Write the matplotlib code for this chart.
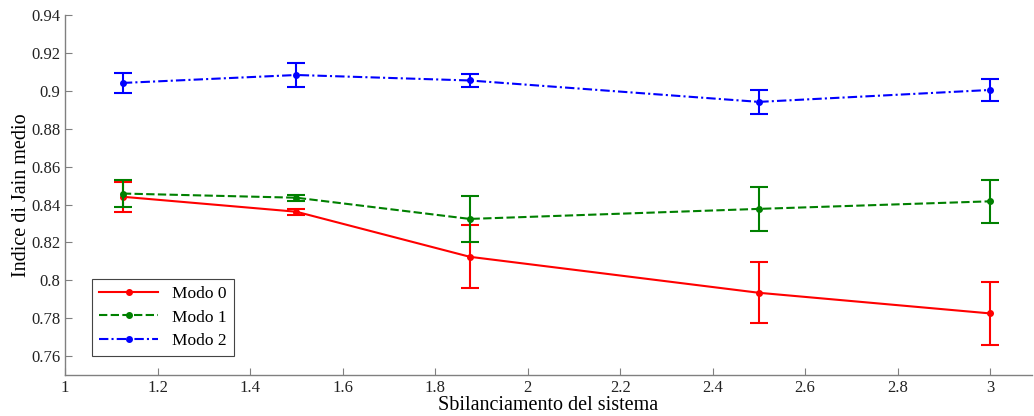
import matplotlib
matplotlib.use('Agg')
import matplotlib.pyplot as plt

# dati
x = [1.125, 1.5, 1.875, 2.5, 3.0]

modo0 = [0.8441, 0.8362, 0.8124, 0.7934, 0.7825]
modo0_err = [0.0079, 0.0017, 0.0166, 0.0160, 0.0167]

modo1 = [0.8458, 0.8436, 0.8324, 0.8377, 0.8417]
modo1_err = [0.0073, 0.0015, 0.0120, 0.0116, 0.0114]

modo2 = [0.9042, 0.9084, 0.9055, 0.8942, 0.9005]
modo2_err = [0.0053, 0.0063, 0.0034, 0.0065, 0.0060]

labels = ['Modo 0', 'Modo 1', 'Modo 2']
xticks = [1, 1.2, 1.4, 1.6, 1.8, 2, 2.2, 2.4, 2.6, 2.8, 3]
yticks = [0.76, 0.78, 0.8, 0.82, 0.84, 0.86, 0.88, 0.9, 0.92, 0.94]

plt.rcParams['font.family'] = ['Liberation Serif', 'DejaVu Serif']

fig = plt.figure(figsize=(10.34, 4.16), dpi=100)
ax = fig.add_axes([0.0629, 0.0986, 0.935, 0.865])

styles = [
    ('red', '-', None),
    ('green', '--', (4, 1.6)),
    ('blue', '-.', (4.5, 1.5, 1, 1.5)),
]
series = [(modo0, modo0_err), (modo1, modo1_err), (modo2, modo2_err)]

for (y, e), (c, ls, dashes), lab in zip(series, styles, labels):
    ax.errorbar(x, y, yerr=e, color=c, ecolor=c, elinewidth=1.5, capsize=6.5,
                capthick=1.5, linestyle='none')
    kw = dict(color=c, linewidth=1.5, marker='o', markersize=4, label=lab)
    line, = ax.plot(x, y, linestyle=ls, **kw)
    if dashes:
        line.set_dashes(dashes)

ax.set_xlim(1, 3.09)
ax.set_ylim(0.75, 0.94)
ax.set_xticks(xticks)
ax.set_xticklabels(['1', '1.2', '1.4', '1.6', '1.8', '2', '2.2', '2.4', '2.6', '2.8', '3'])
ax.set_yticks(yticks)
ax.set_yticklabels(['0.76', '0.78', '0.8', '0.82', '0.84', '0.86', '0.88', '0.9', '0.92', '0.94'])

for s in ['top', 'right']:
    ax.spines[s].set_visible(False)
for s in ['left', 'bottom']:
    ax.spines[s].set_color('#808080')
    ax.spines[s].set_linewidth(1.0)
ax.tick_params(direction='in', length=5, color='#808080', labelsize=12, labelcolor='#222222')

ax.set_xlabel('Sbilanciamento del sistema', fontsize=14.5, labelpad=0)
ax.set_ylabel('Indice di Jain medio', fontsize=14.5, labelpad=0)

leg = ax.legend(loc='lower left', bbox_to_anchor=(0.028, 0.053), borderaxespad=0,
                fancybox=False, fontsize=12.5, handlelength=3.4, labelspacing=0.42,
                framealpha=1)
leg.get_frame().set_edgecolor('#444444')
leg.get_frame().set_linewidth(0.8)

plt.savefig('out.png', dpi=100)
plt.close()
